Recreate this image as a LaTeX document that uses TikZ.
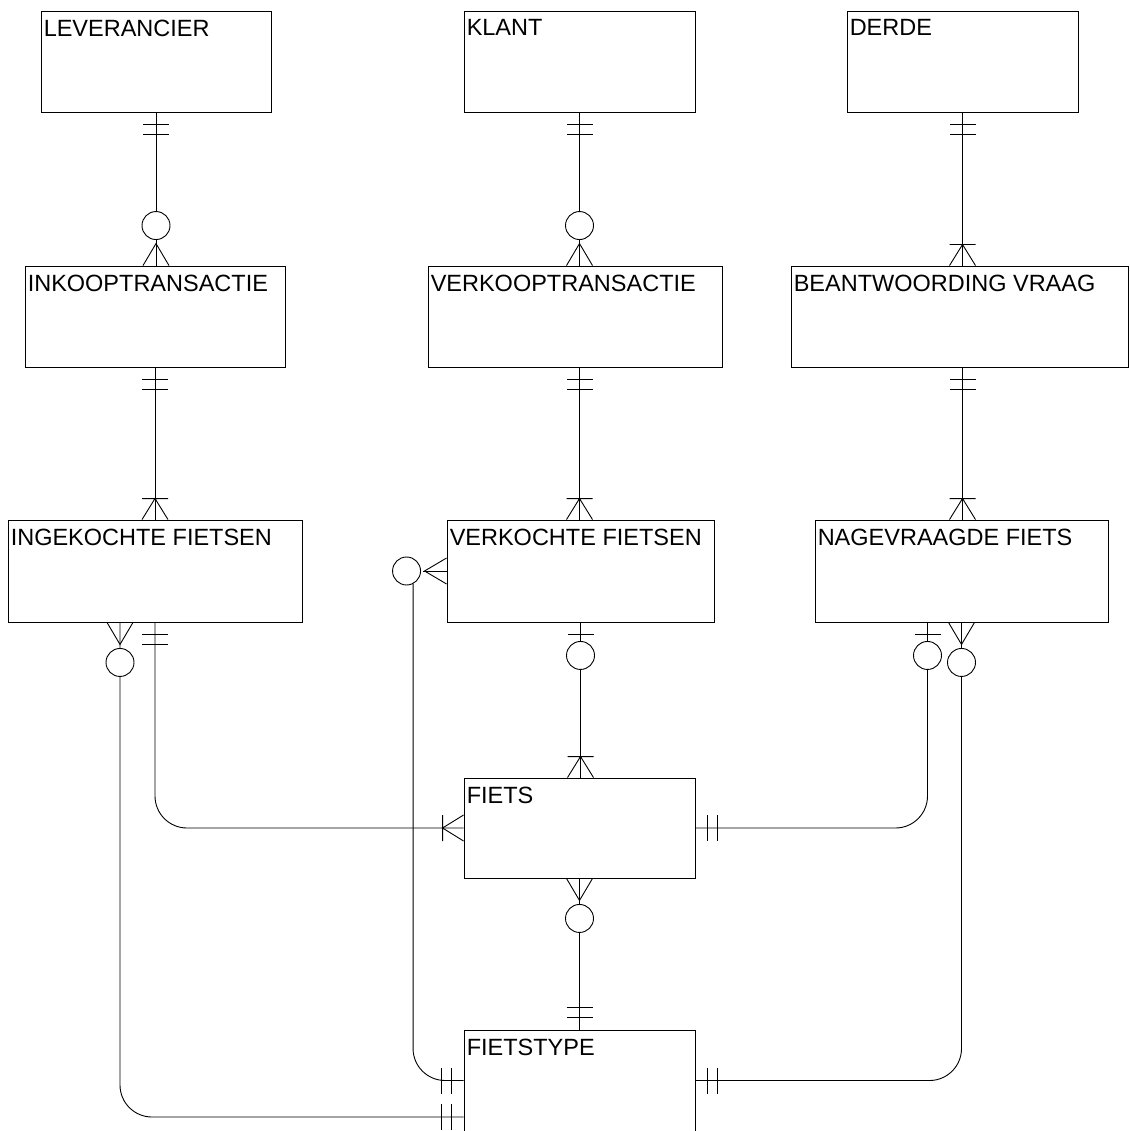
\documentclass[tikz,border=0pt]{standalone}
\usepackage{fontspec}
\setmainfont{Liberation Sans}
\usetikzlibrary{calc}

\tikzset{
  ent/.style={draw, rectangle, inner sep=0pt, line width=0.9pt},
  lbl/.style={anchor=north west, inner sep=0pt, xshift=3pt, yshift=-9pt,
              font=\fontsize{23.5}{27}\selectfont},
  rel/.style={line width=0.9pt},
  rc/.style={rel, rounded corners=32pt},
  % relationship end marks, drawn along +x away from the entity edge
  pics/onlyone/.style={code={
    \draw[rel] (12,-13) -- (12,13) (22,-13) -- (22,13);}},
  pics/oneormany/.style={code={
    \draw[rel] (0,-13) -- (21,0) -- (0,13) (21,-13) -- (21,13);}},
  pics/zeroormany/.style={code={
    \draw[rel] (0,-13) -- (22,0) -- (0,13);
    \draw[rel, fill=white] (40,0) circle[radius=14pt];}},
  pics/zeroorone/.style={code={
    \draw[rel] (12,-13) -- (12,13);
    \draw[rel, fill=white] (33,0) circle[radius=14pt];}},
}

\begin{document}
\begin{tikzpicture}[x=1pt, y=-1pt]
\useasboundingbox (0,0) rectangle (1129,1131);

% entities
\node[ent, minimum width=230pt, minimum height=101pt, label={[lbl]north west:LEVERANCIER}] (LEV) at (156,61.5) {};
\node[ent, minimum width=231pt, minimum height=101pt, label={[lbl]north west:KLANT}] (KLANT) at (579.5,61.5) {};
\node[ent, minimum width=231pt, minimum height=101pt, label={[lbl]north west:DERDE}] (DERDE) at (962.5,61.5) {};

\node[ent, minimum width=260pt, minimum height=101pt, label={[lbl]north west:INKOOPTRANSACTIE}] (INKOOP) at (155,316.5) {};
\node[ent, minimum width=294pt, minimum height=101pt, label={[lbl]north west:VERKOOPTRANSACTIE}] (VERKOOP) at (575,316.5) {};
\node[ent, minimum width=337.5pt, minimum height=101pt, label={[lbl]north west:BEANTWOORDING VRAAG}] (BEANTW) at (959.75,316.5) {};

\node[ent, minimum width=294pt, minimum height=102pt, label={[lbl]north west:INGEKOCHTE FIETSEN}] (INGEK) at (155,571) {};
\node[ent, minimum width=267pt, minimum height=102pt, label={[lbl]north west:VERKOCHTE FIETSEN}] (VERKOCHT) at (580.5,571) {};
\node[ent, minimum width=293pt, minimum height=102pt, label={[lbl]north west:NAGEVRAAGDE FIETS}] (NAGEV) at (961.5,571) {};

\node[ent, minimum width=231pt, minimum height=100pt, label={[lbl]north west:FIETS}] (FIETS) at (579.5,828) {};
\node[ent, minimum width=231pt, minimum height=101pt, label={[lbl]north west:FIETSTYPE}] (FIETSTYPE) at (579.5,1080.5) {};

% helper points for the side connectors
\coordinate (ingekB) at ($(INGEK.south)+(-35,0)$);
\coordinate (ftLow) at ($(FIETSTYPE.west)+(0,36.5)$);
\coordinate (verkW) at ($(VERKOCHT.west)+(-24,0)$);
\coordinate (verkD) at ($(VERKOCHT.west)+(-33.5,12.5)$);
\coordinate (nagevB) at ($(NAGEV.south)+(-34,0)$);

% straight connectors
\draw[rel] (LEV.south) -- (LEV.south |- INKOOP.north);
\draw[rel] (KLANT.south) -- (KLANT.south |- VERKOOP.north);
\draw[rel] (DERDE.south) -- (DERDE.south |- BEANTW.north);
\draw[rel] (INKOOP.south) -- (INKOOP.south |- INGEK.north);
\draw[rel] (KLANT.south |- VERKOOP.south) -- (KLANT.south |- VERKOCHT.north);
\draw[rel] (DERDE.south |- BEANTW.south) -- (DERDE.south |- NAGEV.north);
\draw[rel] (VERKOCHT.south) -- (VERKOCHT.south |- FIETS.north);
\draw[rel] (FIETS.south) -- (FIETSTYPE.north);

% bent connectors
\draw[rc] (INGEK.south) |- (FIETS.west);
\draw[rc] (ingekB) |- (ftLow);
\draw[rel] (VERKOCHT.west) -- (verkW);
\draw[rc] (verkD) |- (FIETSTYPE.west);
\draw[rc] (nagevB) |- (FIETS.east);
\draw[rc] (NAGEV.south) |- (FIETSTYPE.east);

% end marks
\pic[rotate=-90] at (LEV.south) {onlyone};
\pic[rotate=90] at (LEV.south |- INKOOP.north) {zeroormany};
\pic[rotate=-90] at (KLANT.south) {onlyone};
\pic[rotate=90] at (KLANT.south |- VERKOOP.north) {zeroormany};
\pic[rotate=-90] at (DERDE.south) {onlyone};
\pic[rotate=90] at (DERDE.south |- BEANTW.north) {oneormany};

\pic[rotate=-90] at (INKOOP.south) {onlyone};
\pic[rotate=90] at (INKOOP.south |- INGEK.north) {oneormany};
\pic[rotate=-90] at (KLANT.south |- VERKOOP.south) {onlyone};
\pic[rotate=90] at (KLANT.south |- VERKOCHT.north) {oneormany};
\pic[rotate=-90] at (DERDE.south |- BEANTW.south) {onlyone};
\pic[rotate=90] at (DERDE.south |- NAGEV.north) {oneormany};

\pic[rotate=-90] at (VERKOCHT.south) {zeroorone};
\pic[rotate=90] at (VERKOCHT.south |- FIETS.north) {oneormany};
\pic[rotate=-90] at (FIETS.south) {zeroormany};
\pic[rotate=90] at (FIETSTYPE.north) {onlyone};

\pic[rotate=-90] at (INGEK.south) {onlyone};
\pic[rotate=180] at (FIETS.west) {oneormany};
\pic[rotate=-90] at (ingekB) {zeroormany};
\pic[rotate=180] at (ftLow) {onlyone};
\pic[rotate=180] at (VERKOCHT.west) {zeroormany};
\pic[rotate=180] at (FIETSTYPE.west) {onlyone};
\pic[rotate=-90] at (nagevB) {zeroorone};
\pic[rotate=0] at (FIETS.east) {onlyone};
\pic[rotate=-90] at (NAGEV.south) {zeroormany};
\pic[rotate=0] at (FIETSTYPE.east) {onlyone};
\end{tikzpicture}
\end{document}
